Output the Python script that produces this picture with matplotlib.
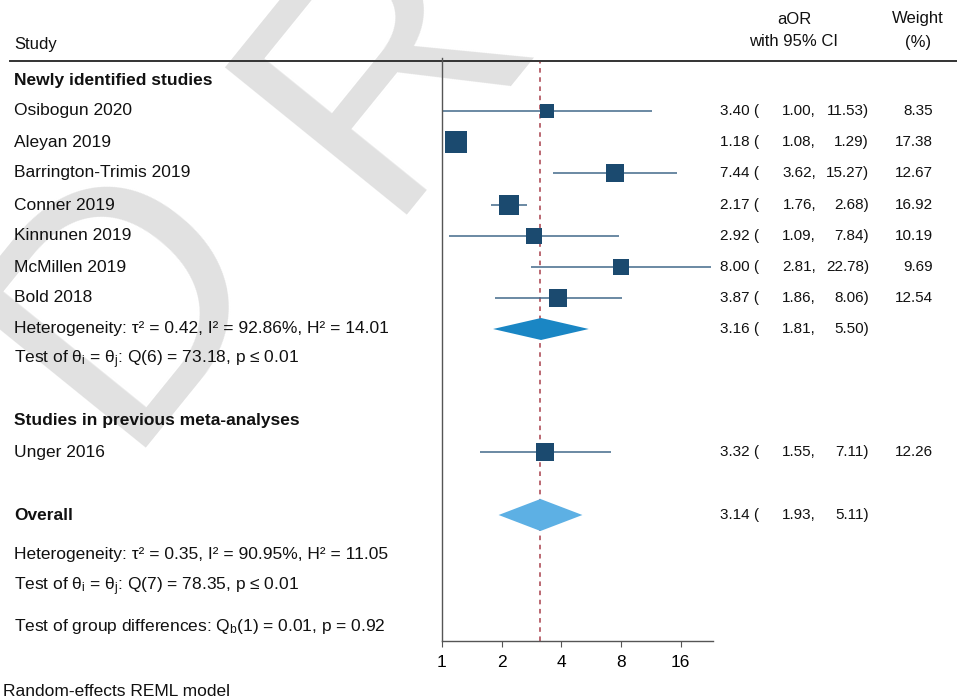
import matplotlib
matplotlib.use("Agg")
import numpy as np
import matplotlib.pyplot as plt
from matplotlib.transforms import blended_transform_factory

plt.rcParams["font.family"] = ["Liberation Sans", "DejaVu Sans"]
plt.rcParams["mathtext.fontset"] = "custom"
plt.rcParams["mathtext.rm"] = "Liberation Sans"
plt.rcParams["mathtext.it"] = "Liberation Sans:italic"

# ---- data ----
studies = ["Osibogun 2020", "Aleyan 2019", "Barrington-Trimis 2019", "Conner 2019",
           "Kinnunen 2019", "McMillen 2019", "Bold 2018", "Unger 2016"]
aor = [3.40, 1.18, 7.44, 2.17, 2.92, 8.00, 3.87, 3.32]
ci_low = [1.00, 1.08, 3.62, 1.76, 1.09, 2.81, 1.86, 1.55]
ci_high = [11.53, 1.29, 15.27, 2.68, 7.84, 22.78, 8.06, 7.11]
weights = [8.35, 17.38, 12.67, 16.92, 10.19, 9.69, 12.54, 12.26]

group_est = [3.16, 1.81, 5.50]      # newly identified, pooled
overall_est = [3.14, 1.93, 5.11]    # overall, pooled
xticks = [1, 2, 4, 8, 16]

het_new = "Heterogeneity: τ² = 0.42, I² = 92.86%, H² = 14.01"
test_new = r"Test of θ$_\mathrm{i}$ = θ$_\mathrm{j}$: Q(6) = 73.18, p ≤ 0.01"
het_all = "Heterogeneity: τ² = 0.35, I² = 90.95%, H² = 11.05"
test_all = r"Test of θ$_\mathrm{i}$ = θ$_\mathrm{j}$: Q(7) = 78.35, p ≤ 0.01"
test_grp = r"Test of group differences: Q$_\mathrm{b}$(1) = 0.01, p = 0.92"

# ---- layout (pixel rows from top) ----
W, H = 957, 699
study_y = [111, 142, 173, 205, 236, 267, 298, 452]
fs = 12.5      # labels
fs_num = 11    # estimate / weight columns

fig = plt.figure(figsize=(W / 100, H / 100), dpi=100)

# watermark "DRAFT" on a 51 degree baseline (only D and R fall on the canvas)
ang = np.deg2rad(51)
bx, by = np.cos(ang), -np.sin(ang)
wm_pos = [(118, 448)] + [(379 + k * 364 * bx, 215 + k * 364 * by) for k in range(4)]
for ch, (px, py) in zip("DRAFT", wm_pos):
    fig.text(px / W, 1 - py / H, ch, fontsize=245, color="#e1e1e1",
             rotation=51, rotation_mode="anchor", ha="left", va="baseline",
             zorder=-5)

ax_l, ax_r, ax_t, ax_b = 442, 713, 58, 641
ax = fig.add_axes([ax_l / W, 1 - ax_b / H, (ax_r - ax_l) / W, (ax_b - ax_t) / H])
ax.set_zorder(2)
ax.patch.set_alpha(0)
ax.set_xscale("log", base=2)
ax.set_xlim(1, 23.3)
ax.set_ylim(ax_b, ax_t)
ax.set_xticks(xticks)
ax.set_xticklabels([str(t) for t in xticks], fontsize=fs)
ax.minorticks_off()
ax.set_yticks([])
for s in ["top", "right"]:
    ax.spines[s].set_visible(False)
for s in ["left", "bottom"]:
    ax.spines[s].set_color("#555555")
    ax.spines[s].set_linewidth(1.0)
ax.tick_params(axis="x", length=4, color="#555555", pad=6)

# reference line at overall estimate
ax.axvline(overall_est[0], ymin=0, ymax=1 - 4 / (ax_b - ax_t), color="#a8404c",
           linestyle=(0, (3, 3)), linewidth=1.1, zorder=1)

# study CIs and squares
for y, est, lo, hi, w in zip(study_y, aor, ci_low, ci_high, weights):
    ax.hlines(y, lo, hi, color="#42698a", linewidth=1.1, zorder=2, clip_on=False)
    side = 5.1 * np.sqrt(w) * 0.72
    ax.plot(est, y, marker="s", markersize=side, color="#1b4a6f",
            markeredgewidth=0, zorder=3, clip_on=False)


def diamond(vals, y, half, color):
    est, lo, hi = vals
    ax.fill([lo, est, hi, est], [y, y - half, y, y + half], color=color,
            linewidth=0, zorder=3)


diamond(group_est, 329, 11, "#1a86c4")
diamond(overall_est, 515, 16, "#5db0e4")

# ---- text ----
tr = blended_transform_factory(fig.transFigure, ax.transData)


def txt(x, y, s, **kw):
    kw.setdefault("fontsize", fs)
    kw.setdefault("va", "center")
    ax.text(x / W, y, s, transform=tr, clip_on=False, color="#111111", **kw)


def ci_text(y, est, lo, hi, w=None):
    txt(720, y, f"{est:.2f} (", ha="left", fontsize=fs_num)
    txt(816, y, f"{lo:.2f},", ha="right", fontsize=fs_num)
    txt(869, y, f"{hi:.2f})", ha="right", fontsize=fs_num)
    if w is not None:
        txt(933, y, f"{w:.2f}", ha="right", fontsize=fs_num)


txt(14, 45, "Study", ha="left", fontsize=12)
txt(794, 19, "aOR", ha="center", fontsize=12)
txt(794, 42, "with 95% CI", ha="center", fontsize=12)
txt(918, 19, "Weight", ha="center", fontsize=12)
txt(918, 42, "(%)", ha="center", fontsize=12)
ax.plot([10 / W, 1], [60.5, 60.5], transform=tr, color="#333333",
        linewidth=1.4, clip_on=False)

txt(14, 80, "Newly identified studies", ha="left", fontweight="bold")
for y, name, est, lo, hi, w in zip(study_y, studies, aor, ci_low, ci_high, weights):
    txt(14, y, name, ha="left")
    ci_text(y, est, lo, hi, w)

txt(14, 329, het_new, ha="left")
ci_text(329, *group_est)
txt(14, 360, test_new, ha="left")
txt(14, 421, "Studies in previous meta-analyses", ha="left", fontweight="bold")
txt(14, 515, "Overall", ha="left", fontweight="bold")
ci_text(515, *overall_est)
txt(14, 555, het_all, ha="left")
txt(14, 587, test_all, ha="left")
txt(14, 627, test_grp, ha="left")
fig.text(3 / W, 1 - 692 / H, "Random-effects REML model", fontsize=fs,
         ha="left", va="center", color="#111111")

fig.savefig("out.png", dpi=100, facecolor="white")
